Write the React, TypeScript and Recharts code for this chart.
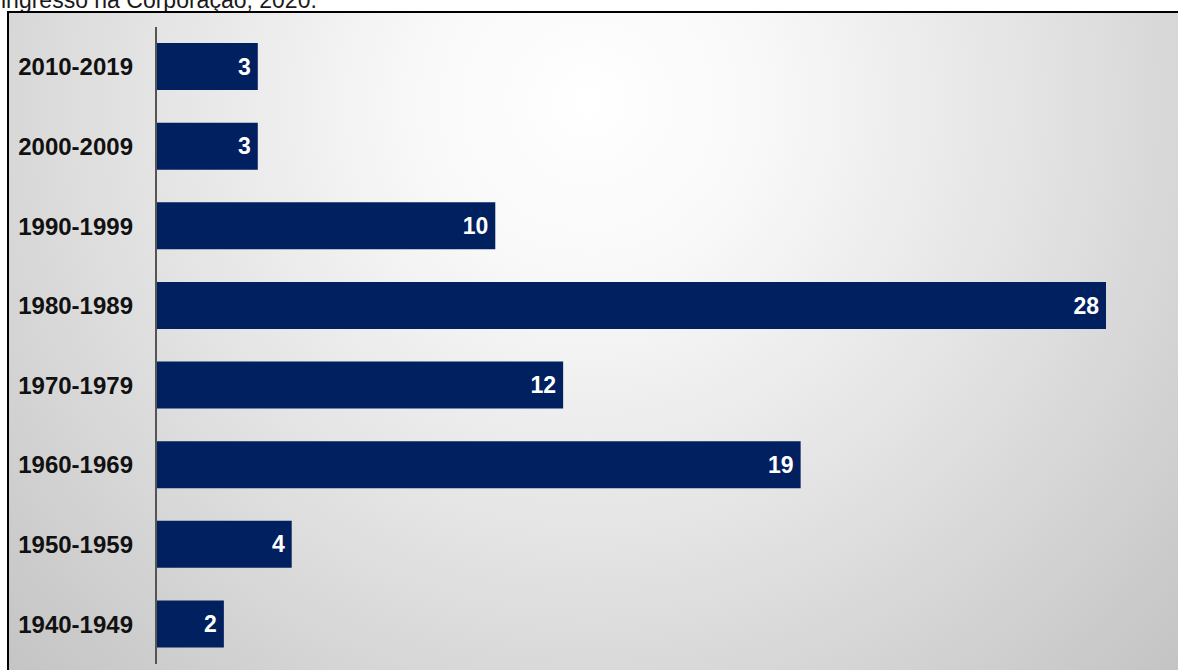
import React from "react";
import { BarChart, Bar, XAxis, YAxis, LabelList } from "recharts";

// Decades of entry into the corporation, with head counts
const decades = [
  "2010-2019",
  "2000-2009",
  "1990-1999",
  "1980-1989",
  "1970-1979",
  "1960-1969",
  "1950-1959",
  "1940-1949",
];
const counts = [3, 3, 10, 28, 12, 19, 4, 2];

const data = decades.map((d, i) => ({ decade: d, count: counts[i] }));

const BAR_COLOR = "#002060";

const App: React.FC = () => {
  return (
    <div
      style={{
        position: "fixed",
        left: 0,
        top: 0,
        width: 1178,
        height: 670,
        overflow: "hidden",
        background: "#ffffff",
        fontFamily: "Arial, 'Liberation Sans', sans-serif",
      }}
    >
      {/* caption, cut off at the top like the source */}
      <div
        style={{
          position: "absolute",
          left: 1,
          top: -11,
          fontSize: 23,
          lineHeight: "23px",
          color: "#1a1a1a",
          whiteSpace: "nowrap",
        }}
      >
        ingresso na Corporação, 2020.
      </div>
      {/* framed plot box with grey radial background */}
      <div
        style={{
          position: "absolute",
          left: 7,
          top: 11,
          width: 1200,
          height: 700,
          border: "2px solid #000",
          background:
            "radial-gradient(circle 900px at 580px 90px, #ffffff 0%, #f8f8f8 20%, #e3e3e3 50%, #c8c8c8 85%, #bebebe 100%)",
        }}
      />
      <div style={{ position: "absolute", left: 0, top: 0 }}>
        <BarChart
          width={1178}
          height={670}
          data={data}
          layout="vertical"
          margin={{ top: 27, right: 72, bottom: 6, left: 8 }}
          barSize={47}
        >
          <XAxis type="number" domain={[0, 28]} hide />
          <YAxis
            type="category"
            dataKey="decade"
            width={148}
            axisLine={{ stroke: "#555555", strokeWidth: 2 }}
            tickLine={false}
            tickMargin={17}
            tick={{
              fill: "#111111",
              fontSize: 24,
              fontWeight: "bold",
              fontFamily: "Arial, 'Liberation Sans', sans-serif",
            }}
          />
          <Bar dataKey="count" fill={BAR_COLOR} isAnimationActive={false}>
            <LabelList
              dataKey="count"
              position="insideRight"
              offset={7}
              fill="#ffffff"
              style={{
                fontSize: 23,
                fontWeight: "bold",
                fontFamily: "Arial, 'Liberation Sans', sans-serif",
              }}
            />
          </Bar>
        </BarChart>
      </div>
    </div>
  );
};

export default App;
